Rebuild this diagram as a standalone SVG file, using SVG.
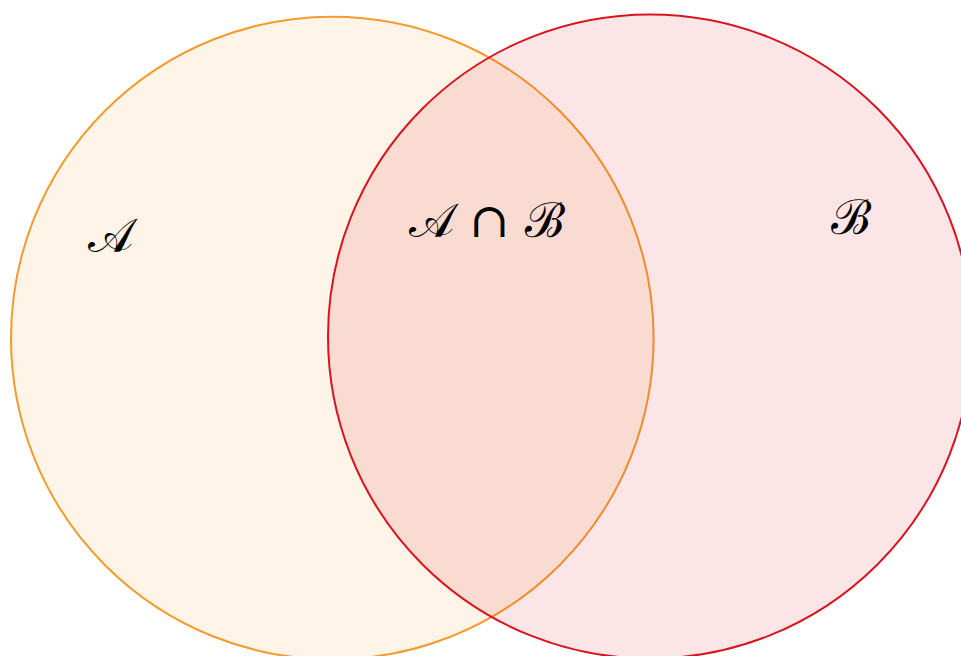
<svg xmlns="http://www.w3.org/2000/svg" width="961" height="656" viewBox="0 0 961 656">
<style>
.lbl{font-family:"DejaVu Serif","Noto Sans","DejaVu Sans",serif;font-size:48px;fill:#000;}
</style>
<rect width="961" height="656" fill="#fff"/>
<g id="setA">
<circle cx="332.3" cy="338" r="321.3" fill="#f39c2e" fill-opacity="0.11" stroke="#f59a2e" stroke-width="2"/>
</g>
<g id="setB">
<circle cx="650" cy="336.5" r="322" fill="#d8141e" fill-opacity="0.11" stroke="#d8141e" stroke-width="2"/>
</g>
<g id="labels">
<text class="lbl" x="110" y="252" text-anchor="middle">𝒜</text>
<text class="lbl" x="487" y="237" text-anchor="middle">𝒜 ∩ ℬ</text>
<text class="lbl" x="851" y="234" text-anchor="middle">ℬ</text>
</g>
</svg>
